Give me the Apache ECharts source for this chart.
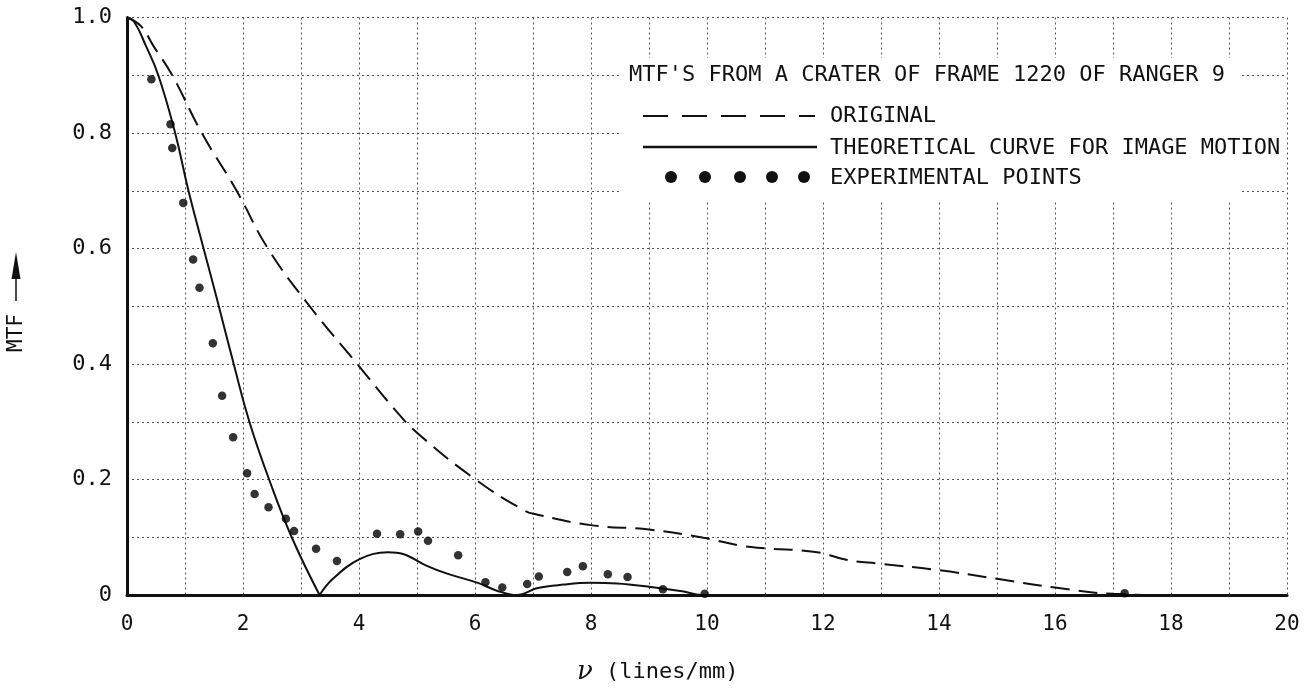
<!DOCTYPE html>
<html>
<head>
<meta charset="utf-8">
<script src="https://cdn.jsdelivr.net/npm/echarts@6/dist/echarts.min.js"></script>
<style>html,body{margin:0;padding:0;background:#fff}#c{width:1311px;height:688px}</style>
</head>
<body>
<div id="c"></div>
<script>
// ---- data ----
const xTicks = [0, 2, 4, 6, 8, 10, 12, 14, 16, 18, 20];
const yTicks = ['0', '0.2', '0.4', '0.6', '0.8', '1.0'];

const originalCurve = [
  [0, 1.0], [0.24, 0.985], [0.46, 0.95], [0.78, 0.9], [1.29, 0.8], [1.89, 0.7],
  [2.43, 0.6], [3.15, 0.5], [3.97, 0.4], [4.67, 0.315], [5.01, 0.28], [6.01, 0.2],
  [6.84, 0.147], [7.08, 0.139], [7.99, 0.121], [9.03, 0.113], [9.94, 0.099],
  [10.6, 0.085], [11.0, 0.081], [11.9, 0.074], [12.4, 0.061], [13.0, 0.054],
  [14.0, 0.043], [15.0, 0.028], [16.0, 0.013], [17.0, 0.002], [18, 0], [20, 0]
];

// theoretical curve: main lobe up to the first zero, then the side lobes and tail
const theoreticalMainLobe = [
  [0, 1.0], [0.12, 0.993], [0.33, 0.95], [0.54, 0.9], [0.83, 0.8], [1.06, 0.7],
  [1.32, 0.6], [1.55, 0.513], [1.84, 0.4], [2.11, 0.3], [2.45, 0.2], [2.84, 0.1],
  [3.32, 0]
];
const theoreticalSideLobes = [
  [3.32, 0], [3.55, 0.028], [4.01, 0.062], [4.5, 0.074], [4.76, 0.071],
  [5.16, 0.051], [5.52, 0.037], [6.05, 0.021], [6.39, 0.007], [6.72, 0],
  [7.08, 0.012], [7.53, 0.018], [7.99, 0.021], [8.45, 0.02], [9.03, 0.014],
  [9.6, 0.006], [9.9, 0], [20, 0]
];

const experimentalPoints = [
  [0.42, 0.893], [0.75, 0.815], [0.78, 0.774], [0.97, 0.679], [1.14, 0.581],
  [1.25, 0.532], [1.48, 0.436], [1.64, 0.345], [1.83, 0.273], [2.07, 0.211],
  [2.20, 0.175], [2.44, 0.152], [2.74, 0.132], [2.88, 0.111], [3.26, 0.080],
  [3.62, 0.059], [4.31, 0.106], [4.71, 0.105], [5.02, 0.110], [5.19, 0.094],
  [5.71, 0.069], [6.18, 0.022], [6.47, 0.013], [6.90, 0.019], [7.10, 0.032],
  [7.59, 0.040], [7.86, 0.050], [8.29, 0.036], [8.63, 0.031], [9.24, 0.010],
  [9.96, 0.002], [17.2, 0.003]
];

const titleText = "MTF'S FROM A CRATER OF FRAME 1220 OF RANGER 9";
const legendNames = ['ORIGINAL', 'THEORETICAL CURVE FOR IMAGE MOTION', 'EXPERIMENTAL POINTS'];

// ---- chart ----
const FONT = '"DejaVu Sans Mono", monospace';
const INK = '#111';
const chart = echarts.init(document.getElementById('c'), null, {renderer: 'canvas'});

const gridLine = {show: true, lineStyle: {color: '#555', width: 1, type: [2, 3]}};
const solidStyle = {color: INK, width: 2};

const option = {
  backgroundColor: '#fff',
  animation: false,
  grid: {left: 127, right: 24, top: 17.5, bottom: 93, outerBoundsMode: 'none'},
  xAxis: {
    type: 'value', min: 0, max: 20, interval: 1,
    axisLine: {show: true, lineStyle: {color: INK, width: 3}},
    axisTick: {show: false},
    splitLine: gridLine,
    axisLabel: {
      margin: 19, color: INK, fontFamily: FONT, fontSize: 21,
      formatter: v => (xTicks.indexOf(v) >= 0 ? String(v) : '')
    }
  },
  yAxis: {
    type: 'value', min: 0, max: 1, interval: 0.1,
    axisLine: {show: true, lineStyle: {color: INK, width: 3}},
    axisTick: {show: false},
    splitLine: gridLine,
    axisLabel: {
      margin: 15, color: INK, fontFamily: FONT, fontSize: 22,
      formatter: v => {
        const k = Math.round(v * 10);
        return k % 2 === 0 ? yTicks[k / 2] : '';
      }
    }
  },
  series: [
    {
      name: legendNames[0], type: 'line', data: originalCurve, smooth: 0.45,
      showSymbol: false, symbol: 'none',
      lineStyle: {color: INK, width: 2, type: [19, 9]}, z: 3
    },
    {
      name: legendNames[1], type: 'line', data: theoreticalMainLobe, smooth: 0.45,
      showSymbol: false, symbol: 'none', lineStyle: solidStyle, z: 4
    },
    {
      name: legendNames[1], type: 'line', data: theoreticalSideLobes, smooth: 0.4,
      showSymbol: false, symbol: 'none', lineStyle: solidStyle, z: 4
    },
    {
      name: legendNames[2], type: 'scatter', data: experimentalPoints,
      symbol: 'circle', symbolSize: 8.5, itemStyle: {color: '#000'}, z: 5
    }
  ],
  graphic: [
    // white-out of the grid behind the key
    {type: 'rect', shape: {x: 621, y: 58, width: 619, height: 142}, style: {fill: '#fff'}, z: 100, silent: true},
    {type: 'rect', shape: {x: 1240, y: 84, width: 45, height: 100}, style: {fill: '#fff'}, z: 100, silent: true},
    {type: 'text', x: 629, y: 75, style: {text: titleText, font: '22px ' + FONT, fill: INK, verticalAlign: 'middle'}, z: 101},
    {type: 'line', shape: {x1: 643, y1: 116, x2: 815, y2: 116}, style: {stroke: INK, lineWidth: 2, lineDash: [25, 14]}, z: 101},
    {type: 'text', x: 830, y: 116, style: {text: legendNames[0], font: '22px ' + FONT, fill: INK, verticalAlign: 'middle'}, z: 101},
    {type: 'line', shape: {x1: 643, y1: 147, x2: 817, y2: 147}, style: {stroke: INK, lineWidth: 2.5}, z: 101},
    {type: 'text', x: 830, y: 148, style: {text: legendNames[1], font: '22px ' + FONT, fill: INK, verticalAlign: 'middle'}, z: 101},
    {type: 'circle', shape: {cx: 671, cy: 177, r: 6}, style: {fill: INK}, z: 101},
    {type: 'circle', shape: {cx: 705, cy: 177, r: 6}, style: {fill: INK}, z: 101},
    {type: 'circle', shape: {cx: 740, cy: 177, r: 6}, style: {fill: INK}, z: 101},
    {type: 'circle', shape: {cx: 772, cy: 177, r: 6}, style: {fill: INK}, z: 101},
    {type: 'circle', shape: {cx: 804, cy: 177, r: 6}, style: {fill: INK}, z: 101},
    {type: 'text', x: 830, y: 178, style: {text: legendNames[2], font: '22px ' + FONT, fill: INK, verticalAlign: 'middle'}, z: 101},
    // y-axis name with arrow
    {type: 'text', x: 17, y: 333, rotation: Math.PI / 2,
     style: {text: 'MTF', font: '21px ' + FONT, fill: INK, align: 'center', verticalAlign: 'middle'}, z: 101},
    {type: 'line', shape: {x1: 16, y1: 301, x2: 16, y2: 272}, style: {stroke: INK, lineWidth: 1.5}, z: 101},
    {type: 'polygon', shape: {points: [[16, 252], [11.5, 279], [20.5, 279]]}, style: {fill: INK}, z: 101},
    // x-axis name
    {type: 'text', x: 577, y: 672,
     style: {
       text: '{nu|ν}{t| (lines/mm)}', verticalAlign: 'middle', fill: INK,
       rich: {
         nu: {font: 'italic 26px "DejaVu Serif", serif', fill: INK},
         t: {font: '22px ' + FONT, fill: INK}
       }
     }, z: 101}
  ]
};
chart.setOption(option);
</script>
</body>
</html>
